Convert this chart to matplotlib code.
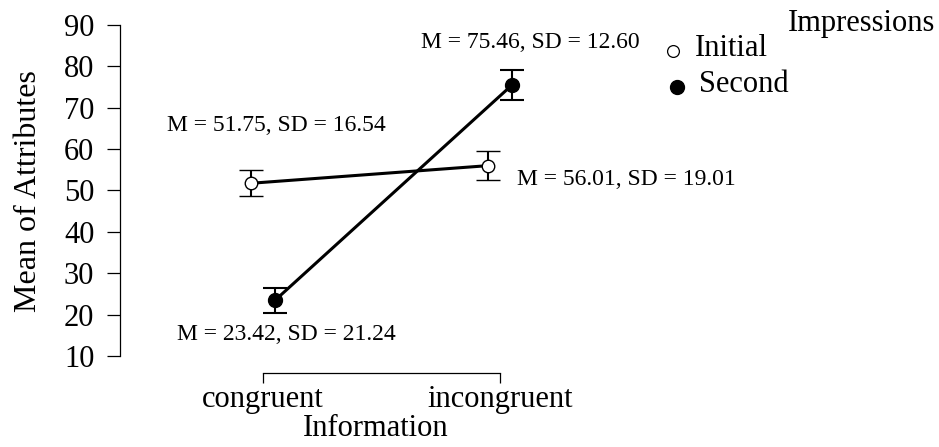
import matplotlib
matplotlib.use("Agg")
import matplotlib.pyplot as plt
from matplotlib.lines import Line2D

plt.rcParams['font.family'] = ['Liberation Serif', 'DejaVu Serif']

# cell means, error bar half-lengths and reported SDs
information = ["congruent", "incongruent"]
initial_means = [51.75, 56.01]
second_means = [23.42, 75.46]
initial_err = [3.1, 3.55]
second_err = [3.1, 3.6]
initial_sd = [16.54, 19.01]
second_sd = [21.24, 12.60]
y_ticks = [10, 20, 30, 40, 50, 60, 70, 80, 90]

fig = plt.figure(figsize=(9.39, 4.47), dpi=100)
ax = fig.add_axes([120 / 939, 1 - 372.7 / 447, 580 / 939, (372.7 - 25) / 447])

xs = list(range(len(information)))
dodge = 0.05
x_init = [x - dodge for x in xs]
x_sec = [x + dodge for x in xs]

ax.errorbar(x_init, initial_means, yerr=initial_err, color='black', lw=2.2,
            elinewidth=1.5, capsize=8.5, capthick=1.5, marker='o', ms=9,
            mfc='white', mec='black', mew=1.0, zorder=3)
ax.errorbar(x_sec, second_means, yerr=second_err, color='black', lw=2.2,
            elinewidth=1.5, capsize=8.5, capthick=1.5, marker='o', ms=10,
            mfc='black', mec='black', zorder=3)

ax.set_xlim(-0.6034, 1.844)
ax.set_ylim(5.96, 90)
ax.set_yticks(y_ticks)
ax.set_xticks(xs)
ax.set_xticklabels(information)

for side in ['top', 'right']:
    ax.spines[side].set_visible(False)
ax.spines['left'].set_bounds(10, 90)
ax.spines['bottom'].set_bounds(0, 1)
ax.spines['left'].set_linewidth(0.9)
ax.spines['bottom'].set_linewidth(0.9)
ax.tick_params(axis='y', length=9.5, width=0.9, pad=9, labelsize=22)
ax.tick_params(axis='x', length=7.5, width=0.9, pad=1, labelsize=22)

ax.set_ylabel("Mean of Attributes", fontsize=23)
ax.yaxis.set_label_coords((43 - 120) / 580, 0.523)
ax.set_xlabel("Information", fontsize=22)
ax.xaxis.set_label_coords((376 - 120) / 580, -0.12)

def label(m, sd):
    return f"M = {m:.2f}, SD = {sd:.2f}"

ax.text(0.055, 65.8, label(initial_means[0], initial_sd[0]), fontsize=17,
        ha='center', va='center')
ax.text(1.072, 52.6, label(initial_means[1], initial_sd[1]), fontsize=17,
        ha='left', va='center')
ax.text(0.10, 15.1, label(second_means[0], second_sd[0]), fontsize=17,
        ha='center', va='center')
ax.text(1.127, 85.8, label(second_means[1], second_sd[1]), fontsize=17,
        ha='center', va='center')

# legend drawn by hand
fig.text(935 / 939, 1 - 24 / 447, "Impressions", fontsize=22, ha='right', va='center')
fig.add_artist(Line2D([673 / 939], [1 - 51 / 447], marker='o', ms=8.5, mfc='white',
                      mec='black', mew=0.9, ls='none'))
fig.text(695 / 939, 1 - 49 / 447, "Initial", fontsize=22, ha='left', va='center')
fig.add_artist(Line2D([677 / 939], [1 - 87 / 447], marker='o', ms=10, mfc='black',
                      mec='black', ls='none'))
fig.text(699 / 939, 1 - 85 / 447, "Second", fontsize=22, ha='left', va='center')

fig.savefig("out.png", dpi=100)
